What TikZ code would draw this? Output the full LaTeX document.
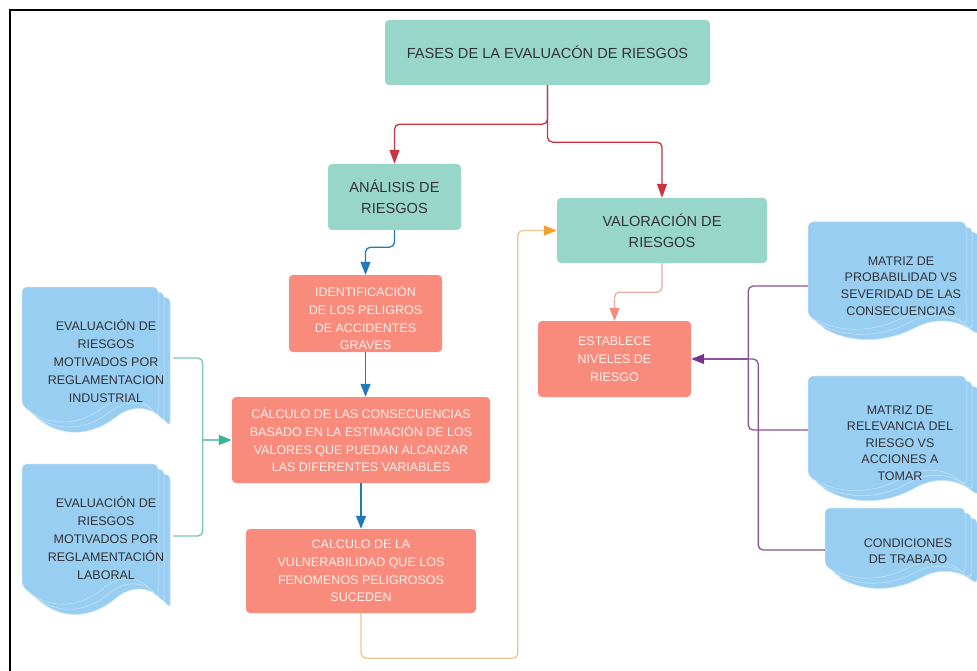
\documentclass[tikz,border=0pt]{standalone}
\usepackage{fontspec}
\setmainfont{Liberation Sans}
\usetikzlibrary{arrows.meta}
\definecolor{tealc}{RGB}{152,214,202}
\definecolor{salc}{RGB}{249,139,125}
\definecolor{docc}{RGB}{152,206,241}
\definecolor{txtd}{RGB}{50,50,55}
\definecolor{txtl}{RGB}{253,238,233}
\definecolor{redc}{RGB}{200,52,64}
\definecolor{bluec}{RGB}{32,122,186}
\definecolor{orlc}{RGB}{232,200,140}
\definecolor{orac}{RGB}{242,160,48}
\definecolor{grnl}{RGB}{120,200,180}
\definecolor{grna}{RGB}{60,178,150}
\definecolor{purc}{RGB}{140,82,150}
\definecolor{pura}{RGB}{118,50,140}
\definecolor{sall}{RGB}{240,170,160}
\definecolor{sala}{RGB}{246,140,126}
\newcommand\mdoc[5]{%
 \foreach \dd in {12,6,0}{%
  \path[docpart] ({#1+#3+\dd},{#2+#4+0.8*#5+0.85*\dd}) -- ({#1+#3+\dd},{#2+0.85*\dd}) -- ({#1+\dd},{#2+0.85*\dd}) -- ({#1+\dd},{#2+#4+0.85*\dd})
   .. controls ({#1+0.2*#3+\dd},{#2+#4+1.6*#5+0.85*\dd}) and ({#1+0.4*#3+\dd},{#2+#4+1.4*#5+0.85*\dd}) .. ({#1+0.58*#3+\dd},{#2+#4+0.3*#5+0.85*\dd})
   .. controls ({#1+0.7*#3+\dd},{#2+#4-0.6*#5+0.85*\dd}) and ({#1+0.85*#3+\dd},{#2+#4-0.9*#5+0.85*\dd}) .. cycle;}}
\begin{document}
\begin{tikzpicture}[x=1pt,y=-1pt,
  tealbox/.style={fill=tealc, rounded corners=4pt, text=txtd, align=center, inner sep=0pt, font=\fontsize{14.6}{20.7}\selectfont},
  salbox/.style={fill=salc, rounded corners=4pt, text=txtl, align=center, inner sep=0pt, font=\fontsize{12.5}{17.7}\selectfont},
  saltext/.style={text=txtl, align=center, inner sep=0pt, font=\fontsize{12.5}{17.7}\selectfont},
  doctext/.style={text=txtd, align=center, inner sep=0pt, font=\fontsize{12.5}{18}\selectfont},
  rdoctext/.style={text=txtd, align=center, inner sep=0pt, font=\fontsize{12.5}{16.6}\selectfont},
  docpart/.style={fill=docc, draw=white!45!docc, line width=0.5pt, rounded corners=5pt},
  conn/.style={line width=1.3pt, rounded corners=5pt},
  redarrow/.style={conn, redc, -{Triangle[length=14pt,width=10pt,color=redc]}},
  bluearrow/.style={conn, bluec, -{Triangle[length=13pt,width=10pt,color=bluec]}},
  orarrow/.style={conn, orlc, -{Triangle[length=13pt,width=10pt,color=orac]}},
  salarrow/.style={conn, sall, -{Triangle[length=13pt,width=10pt,color=sala]}},
  grnarrow/.style={conn, grnl, -{Triangle[length=13pt,width=10pt,color=grna]}},
  purarrow/.style={conn, purc, -{Triangle[length=13pt,width=10pt,color=pura]}}
]
\useasboundingbox (0,0) rectangle (977,671);
\clip (0,0) rectangle (977,671);
\fill[white] (0,0) rectangle (977,671);
\draw[line width=1.2pt, black] (10,671) -- (10,10) -- (977,10);

% teal boxes
\node[tealbox, minimum width=325pt, minimum height=65pt] (fases) at (547.5,52.5) {FASES DE LA EVALUACÓN DE RIESGOS};
\node[tealbox, minimum width=133pt, minimum height=66pt] (analisis) at (394.5,197) {ANÁLISIS DE\\RIESGOS};
\node[tealbox, minimum width=210pt, minimum height=65pt] (valor) at (662,230.5) {VALORACIÓN DE\\RIESGOS};

% salmon boxes
\node[salbox, minimum width=153pt, minimum height=77pt] (ident) at (365.5,313.5) {};
\node[saltext] (identT) at (365.5,318) {IDENTIFICACIÓN\\DE LOS PELIGROS\\DE ACCIDENTES\\GRAVES};
\node[salbox, minimum width=258pt, minimum height=86pt] (calc) at (361,440) {CÁLCULO DE LAS CONSECUENCIAS\\BASADO EN LA ESTIMACIÓN DE LOS\\VALORES QUE PUEDAN ALCANZAR\\LAS DIFERENTES VARIABLES};
\node[salbox, minimum width=230pt, minimum height=84pt] (vuln) at (361,571) {CALCULO DE LA\\VULNERABILIDAD QUE LOS\\FENOMENOS PELIGROSOS\\SUCEDEN};
\node[salbox, minimum width=153pt, minimum height=76pt] (estab) at (614.5,359) {ESTABLECE\\NIVELES DE\\RIESGO};

% document stacks
\mdoc{22}{287}{136}{118}{14}
\mdoc{22}{464}{136}{122}{15}
\mdoc{808}{222}{158}{94}{11}
\mdoc{808}{376}{158}{100}{12}
\mdoc{825}{508}{140}{58}{10}
\node[doctext] (L1) at (106,361) {EVALUACIÓN DE\\RIESGOS\\MOTIVADOS POR\\REGLAMENTACION\\INDUSTRIAL};
\node[doctext] (L2) at (106,538) {EVALUACIÓN DE\\RIESGOS\\MOTIVADOS POR\\REGLAMENTACIÓN\\LABORAL};
\node[rdoctext] (R1) at (901,286) {MATRIZ DE\\PROBABILIDAD VS\\SEVERIDAD DE LAS\\CONSECUENCIAS};
\node[rdoctext] (R2) at (900,443) {MATRIZ DE\\RELEVANCIA DEL\\RIESGO VS\\ACCIONES A\\TOMAR};
\node[rdoctext] (R3) at (908,551) {CONDICIONES\\DE TRABAJO};
\coordinate (L1r) at (173,358);
\coordinate (L2r) at (173,536);
\coordinate (R1l) at (808,286);
\coordinate (R2l) at (808,430);
\coordinate (R3l) at (825,550);

% connectors
\draw[redarrow] (fases.south) -- ++(0,39) -| (analisis.north);
\draw[redarrow] (fases.south) -- ++(0,57) -| (valor.north);
\draw[bluearrow] (analisis.south) -- ++(0,17) -| (ident.north);
\draw[bluearrow] (ident.south) -- (ident.south |- calc.north);
\draw[bluearrow] (calc.south) -- (vuln.north);
\draw[orarrow] (vuln.south) -- ++(0,45) -| ([xshift=-39pt]valor.west) -- (valor.west);
\draw[salarrow] (valor.south) -- ++(0,29) -| (estab.north);
\draw[conn, grnl] (L1r) -| ([xshift=-29pt]calc.west);
\draw[conn, grnl] (L2r) -| ([xshift=-29pt]calc.west);
\draw[grnarrow] ([xshift=-29pt]calc.west) -- (calc.west);
\draw[conn, purc] (R1l) -| ([xshift=57pt]estab.east);
\draw[conn, purc] (R2l) -| ([xshift=57pt]estab.east);
\draw[conn, purc] (R3l) -| ([xshift=67pt]estab.east) -- ([xshift=57pt]estab.east);
\draw[purarrow] ([xshift=57pt]estab.east) -- (estab.east);
\end{tikzpicture}
\end{document}
